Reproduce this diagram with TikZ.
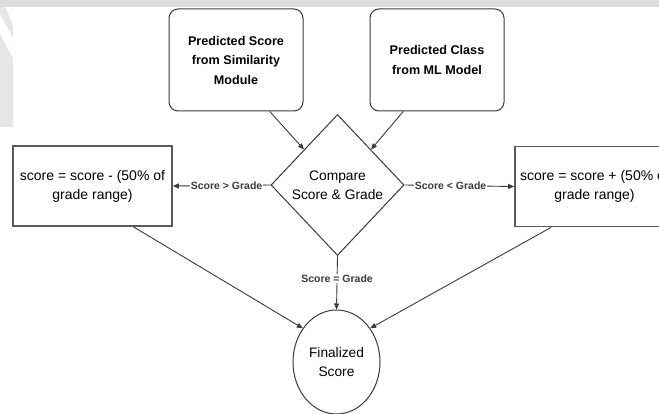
\documentclass[tikz,border=0pt]{standalone}
\usepackage{fontspec}
\setmainfont{Liberation Sans}
\usetikzlibrary{arrows.meta,shapes.geometric,calc}
\definecolor{flowink}{HTML}{3A3A3A}
\definecolor{flowedge}{HTML}{5A5A5A}
\definecolor{flowband}{HTML}{DCDCDC}
\definecolor{flowmark}{HTML}{E6E6E6}
\tikzset{
  srcbox/.style={draw=flowink, line width=1pt, rounded corners=9pt, fill=white, align=center, font=\fontsize{12.6}{19.5}\selectfont\bfseries, minimum width=134pt, minimum height=102pt, inner sep=0pt},
  adjbox/.style={draw=flowedge, line width=1.7pt, fill=white, align=center, font=\fontsize{14}{19}\selectfont, minimum width=159pt, minimum height=80pt, inner sep=0pt},
  decide/.style={diamond, draw=flowink, line width=1pt, fill=white, align=center, font=\fontsize{13.8}{19}\selectfont, minimum width=133pt, minimum height=141pt, inner sep=0pt},
  endnode/.style={ellipse, draw=flowink, line width=1pt, fill=white, align=center, font=\fontsize{13.7}{18.5}\selectfont, minimum width=87pt, minimum height=104pt, inner sep=0pt},
  arr/.style={-{Triangle[length=6pt,width=5pt]}, line width=0.9pt, color=flowink},
  cond/.style={font=\fontsize{10.5}{12}\selectfont\bfseries, fill=white, inner sep=1pt, text=flowink},
}

\begin{document}
\begin{tikzpicture}[x=1pt, y=-1pt]
  \useasboundingbox (0,0) rectangle (659,414);
  \clip (0,0) rectangle (659,414);
  \fill[white] (0,0) rectangle (659,414);
  % page band and faint mark at the edge
  \fill[flowband] (0,0) rectangle (659,7);
  \fill[flowmark] (0,7) -- (5,7) -- (13,25) -- (13,127) -- (0,127) -- cycle;
  \fill[white] (0,14) -- (13,38) -- (13,58) -- (0,34) -- cycle;

  % inputs
  \node[srcbox] (simscore) at (236,60) {Predicted Score\\from Similarity\\Module};
  \node[srcbox] (mlclass) at (437,60) {Predicted Class\\from ML Model};

  % decision
  \node[decide] (cmp) at (337.5,185) {Compare\\Score \& Grade};

  % adjustments
  \node[adjbox] (lower) at (92.5,186) {score = score - (50\% of\\grade range)};
  \node[adjbox] (raise) at (594.5,186.5) {score = score + (50\% of\\grade range)};

  % result
  \node[endnode] (final) at (336.5,362) {Finalized\\Score};

  \draw[arr] ($(simscore.south west)!0.75!(simscore.south east)$) -- ($(cmp.west)!0.5!(cmp.north)$);
  \draw[arr] ($(mlclass.south west)!0.25!(mlclass.south east)$) -- ($(cmp.east)!0.5!(cmp.north)$);
  \draw[arr] (cmp.west) -- node[cond, pos=0.45] {Score > Grade} (lower.east);
  \draw[arr] (cmp.east) -- node[cond, pos=0.42] {Score < Grade} (raise.west);
  \draw[arr] (cmp.south) -- node[cond, pos=0.42] {Score = Grade} (final.north);
  \draw[arr] ($(lower.south west)!0.755!(lower.south east)$) -- (final.135);
  \draw[arr] ($(raise.south west)!0.23!(raise.south east)$) -- (final.45);
\end{tikzpicture}
\end{document}
